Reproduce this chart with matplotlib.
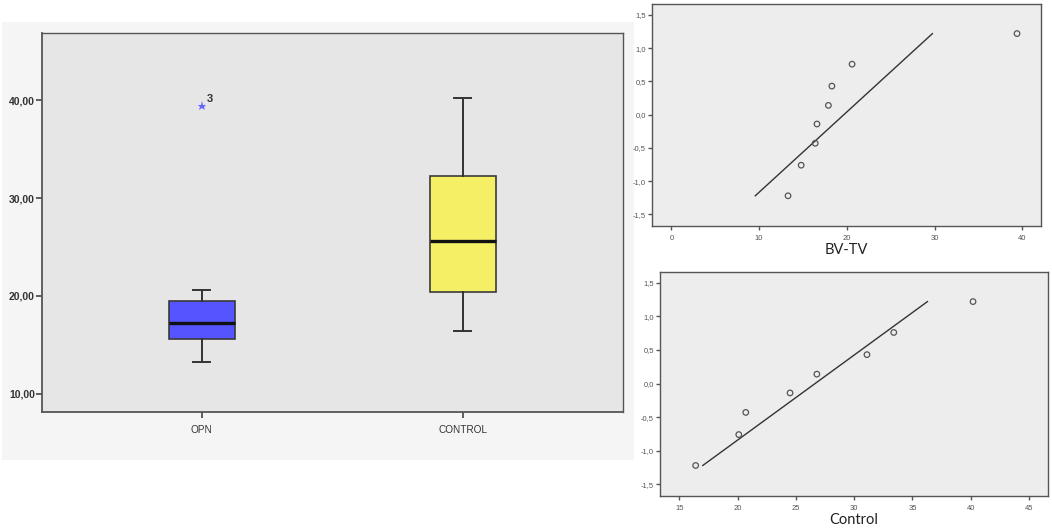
import numpy as np
import matplotlib
matplotlib.use("Agg")
import matplotlib.pyplot as plt
from matplotlib.ticker import FuncFormatter, FixedLocator

# ---------------- data ----------------
groups = ["OPN", "CONTROL"]
box_q1 = [15.6, 20.4]
box_median = [17.25, 25.65]
box_q3 = [19.45, 32.2]
whisker_low = [13.3, 16.4]
whisker_high = [20.6, 40.2]
outliers = [[39.4], []]
outlier_ids = [["3"], []]
box_colors = ["#5555ff", "#f4ef64"]

bvtv_values = [13.3, 14.8, 16.4, 16.6, 17.9, 18.3, 20.6, 39.4]
control_values = [16.4, 20.1, 20.7, 24.5, 26.8, 31.1, 33.4, 40.2]
expected_normal = [-1.22, -0.76, -0.43, -0.14, 0.14, 0.43, 0.76, 1.22]

left_yticks = [10, 20, 30, 40]
qq_yticks = [-1.5, -1.0, -0.5, 0.0, 0.5, 1.0, 1.5]
bvtv_xticks = [0, 10, 20, 30, 40]
control_xticks = [15, 20, 25, 30, 35, 40, 45]

# ---------------- figure ----------------
W, H = 1052, 528
fig = plt.figure(figsize=(W / 100, H / 100), dpi=100)
fig.patch.set_facecolor("white")

def fx(px):
    return px / W

def fy(py):
    return 1 - py / H

# light background of the left picture (drawn behind the axes)
bg = fig.add_axes([fx(2), fy(460), fx(634) - fx(2), fy(22) - fy(460)], zorder=-5)
bg.set_facecolor("#f5f5f5")
bg.set_xticks([])
bg.set_yticks([])
for s in bg.spines.values():
    s.set_visible(False)

def comma_fmt(decimals):
    def f(v, pos):
        s = f"{v:.{decimals}f}".replace(".", ",")
        if s.startswith("-") and abs(v) < 1e-9:
            s = s[1:]
        return s
    return FuncFormatter(f)

tick_font = "Liberation Sans"

# ---------------- left boxplot ----------------
ax = fig.add_axes([fx(41.7), fy(412.3), fx(622.7) - fx(41.7), fy(32.7) - fy(412.3)])
ax.set_facecolor("#e6e6e6")
stats = []
for i, g in enumerate(groups):
    stats.append(dict(label=g, med=box_median[i], q1=box_q1[i], q3=box_q3[i],
                      whislo=whisker_low[i], whishi=whisker_high[i], fliers=[]))
positions = [1, 2]
bp = ax.bxp(stats, positions=positions, widths=0.2515, patch_artist=True,
            showfliers=False, capwidths=0.065,
            boxprops=dict(edgecolor="#3a3a3a", linewidth=1.2),
            medianprops=dict(color="#111111", linewidth=2.4),
            whiskerprops=dict(color="#333333", linewidth=1.4),
            capprops=dict(color="#333333", linewidth=1.4))
for patch, c in zip(bp["boxes"], box_colors):
    patch.set_facecolor(c)
for pos, outs, ids in zip(positions, outliers, outlier_ids):
    for v, lab in zip(outs, ids):
        ax.plot(pos, v, marker="*", markersize=6.5, color="#6464ff",
                markeredgewidth=0, linestyle="none", zorder=5)
        ax.annotate(lab, (pos, v), xytext=(4, 3), textcoords="offset points",
                    fontsize=8, color="#333333", fontfamily=tick_font,
                    fontweight="bold")
ax.set_xlim(0.387, 2.613)
ax.set_ylim(8.13, 46.87)
ax.yaxis.set_major_locator(FixedLocator(left_yticks))
ax.yaxis.set_major_formatter(comma_fmt(2))
ax.set_xticks(positions)
ax.set_xticklabels(groups)
for s in ax.spines.values():
    s.set_color("#555555")
    s.set_linewidth(1.3)
ax.spines["top"].set_linewidth(1.0)
ax.spines["right"].set_linewidth(1.0)
ax.tick_params(axis="both", direction="out", length=4, width=1.2, color="#444444",
               labelsize=7.5, labelcolor="#333333", pad=1)
ax.tick_params(axis="x", pad=5, labelsize=7.2)
for lbl in ax.get_yticklabels():
    lbl.set_fontfamily(tick_font)
    lbl.set_fontweight("bold")
for lbl in ax.get_xticklabels():
    lbl.set_fontfamily(tick_font)

# ---------------- Q-Q plots ----------------
def qq_panel(rect, values, xlim, xticks, xlabel):
    a = fig.add_axes(rect)
    a.set_facecolor("#ededed")
    vals = np.asarray(values)
    z = np.asarray(expected_normal)
    a.scatter(vals, z, s=16, facecolors="none", edgecolors="#555555",
              linewidths=0.9, zorder=3)
    m, sd = vals.mean(), vals.std(ddof=1)
    zl = np.array([z.min(), z.max()])
    a.plot(m + sd * zl, zl, color="#333333", linewidth=1.0, zorder=2)
    a.set_xlim(*xlim)
    a.set_ylim(-1.67, 1.665)
    a.xaxis.set_major_locator(FixedLocator(xticks))
    a.xaxis.set_major_formatter(FuncFormatter(lambda v, p: f"{v:.0f}"))
    a.yaxis.set_major_locator(FixedLocator(qq_yticks))
    a.yaxis.set_major_formatter(comma_fmt(1))
    for s in a.spines.values():
        s.set_color("#555555")
        s.set_linewidth(1.0)
    a.tick_params(axis="both", direction="out", length=3, width=1.0,
                  color="#555555", labelsize=5.5, labelcolor="#555555", pad=1.5)
    a.tick_params(axis="x", pad=4)
    for lbl in a.get_xticklabels() + a.get_yticklabels():
        lbl.set_fontfamily(tick_font)
    a.set_xlabel(xlabel, fontsize=10.5, fontfamily="Lato", color="#222222",
                 labelpad=0.5)
    return a

ax2 = qq_panel([fx(652.3), fy(225.7), fx(1040.7) - fx(652.3), fy(4) - fy(225.7)],
               bvtv_values, (-2.17, 42.1), bvtv_xticks, "BV-TV")
ax3 = qq_panel([fx(660), fy(495.7), fx(1048.3) - fx(660), fy(271.7) - fy(495.7)],
               control_values, (13.34, 46.66), control_xticks, "Control")

fig.savefig("out.png", dpi=100)
